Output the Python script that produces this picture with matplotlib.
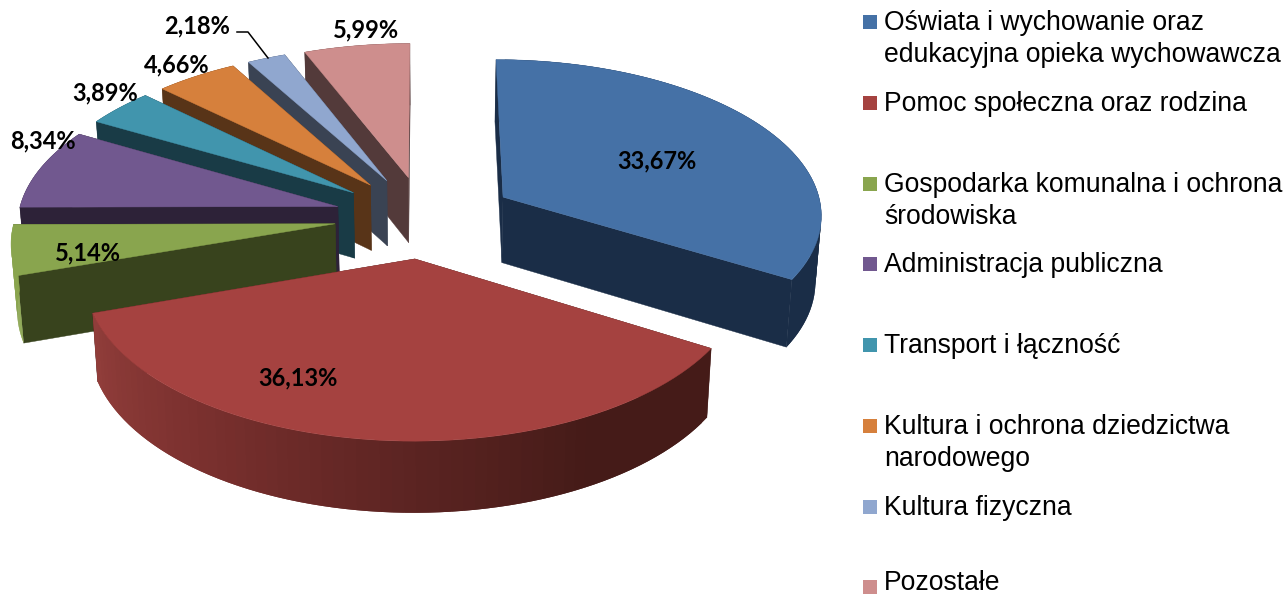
import numpy as np
import matplotlib
matplotlib.use("Agg")
import matplotlib.pyplot as plt
from matplotlib.patches import Polygon, Rectangle

categories = ["Oświata i wychowanie oraz\nedukacyjna opieka wychowawcza",
              "Pomoc społeczna oraz rodzina",
              "Gospodarka komunalna i ochrona\nśrodowiska",
              "Administracja publiczna",
              "Transport i łączność",
              "Kultura i ochrona dziedzictwa\nnarodowego",
              "Kultura fizyczna",
              "Pozostałe"]
values = [33.67, 36.13, 5.14, 8.34, 3.89, 4.66, 2.18, 5.99]
top_colors = ["#4571a6", "#a54240", "#89a54e", "#71588f", "#4195ad", "#d6803c", "#90a7cf", "#ce8e8d"]
face_colors = ["#1a2d47", "#451b18", "#38431d", "#2d2238", "#193b46", "#583418", "#3a4353", "#533a3a"]
rim_colors = ["#1a2d47", "#451b18", "#8aa54e", "#2d2238", "#193b46", "#583418", "#3a4353", "#533a3a"]
legend_y = [22, 103, 184, 264, 345, 426, 507, 587]
legend_text_y = [10, 91, 172, 252, 333, 414, 495, 570]
label_xy = [(657, 161), (298, 378), (88, 253), (43, 141), (105, 93), (177, 65), (197, 26), (366, 30)]

X0, Y0, R, H, K, EXPLODE, EXPLODE_XSCALE = 425, 217, 320, 155, 0.10, 0.265, 1.07

def proj(px, py):
    s = 1 / (1 + K * py)
    return X0 + px * R * s, Y0 - py * H * s, s

def lower(px, py):
    x, y, s = proj(px, py)
    return X0 + (x - X0) * 0.985, y + 27 + 39 * s

def hex2rgb(c):
    return np.array(matplotlib.colors.to_rgb(c))

red_stops = np.array([121, 150, 180, 215, 251])
red_shades = np.array([hex2rgb(c) for c in ["#451b18", "#451b18", "#5c2422", "#7a302e", "#923e3b"]])

fig = plt.figure(figsize=(12.85, 5.96), dpi=100)
ax = fig.add_axes([0, 0, 1, 1])
ax.set_xlim(0, 1285)
ax.set_ylim(596, 0)
ax.axis("off")

edges = np.concatenate([[0], np.cumsum(values)]) / sum(values) * 360
draw_order = [7, 6, 5, 4, 3, 2, 0, 1]
for z, i in enumerate(draw_order):
    a0, a1 = edges[i], edges[i + 1]
    mid = np.radians((a0 + a1) / 2)
    ox, oy = EXPLODE * EXPLODE_XSCALE * np.sin(mid), EXPLODE * np.cos(mid)
    n = 70
    angs = np.radians(np.linspace(a0, a1, n))
    px = ox + np.sin(angs)
    py = oy + np.cos(angs)
    top = [proj(a, b)[:2] for a, b in zip(px, py)]
    bot = [lower(a, b) for a, b in zip(px, py)]
    apex_t = proj(ox, oy)[:2]
    apex_b = lower(ox, oy)
    base = z * 10 + 1
    for t, b in ((top[0], bot[0]), (top[-1], bot[-1])):
        ax.add_patch(Polygon([apex_t, t, b, apex_b], closed=True, fc=face_colors[i],
                             ec=face_colors[i], lw=0.3, zorder=base))
    # rim strips overlap the next one, so no seams appear and no strip folds over itself
    for j in range(n - 1):
        if i == 1:
            deg = np.degrees(angs[j])
            col = tuple(np.interp(deg, red_stops, red_shades[:, c]) for c in range(3))
        else:
            col = rim_colors[i]
        k = min(j + 2, n - 1)
        ax.add_patch(Polygon(top[j:k + 1] + bot[j:k + 1][::-1], closed=True, fc=col,
                             ec="none", zorder=base + 1))
    ax.add_patch(Polygon([apex_t] + top, closed=True, fc=top_colors[i], ec=top_colors[i],
                         lw=0.3, zorder=base + 2))

for v, (lx, ly) in zip(values, label_xy):
    ax.text(lx, ly, f"{v:.2f}%".replace(".", ","), family="Lato", weight="bold", fontsize=17,
            color="black", ha="center", va="center", zorder=200)

ax.plot([237, 248, 268], [32, 32, 58], color="black", lw=1.1, zorder=150)

for name, col, ly, ty in zip(categories, top_colors, legend_y, legend_text_y):
    ax.add_patch(Rectangle((863, ly - 7), 14, 14, fc=col, ec="none", zorder=200))
    ax.text(884, ty, name, family="Liberation Sans", fontsize=19.1, color="black",
            ha="left", va="top", linespacing=1.28, zorder=200)

fig.savefig("out.png", dpi=100)
